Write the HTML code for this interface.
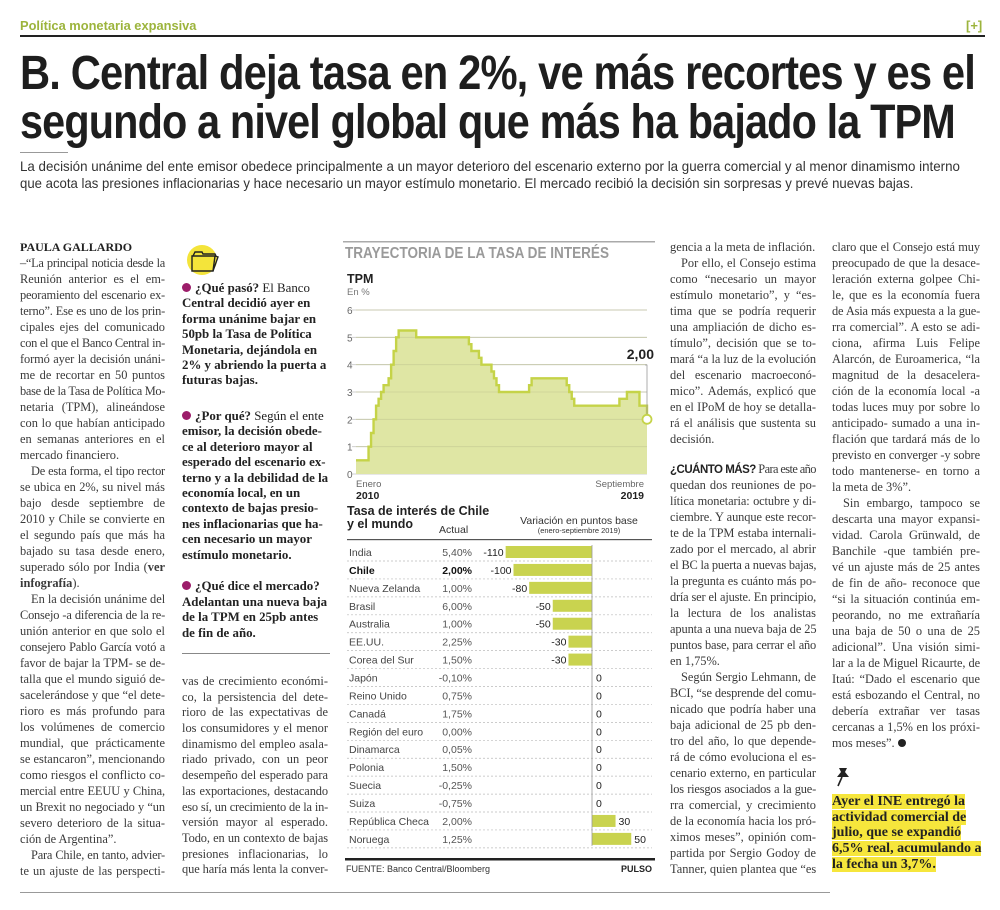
<!DOCTYPE html>
<html><head><meta charset="utf-8">
<style>
body{margin:0;background:#fff;}
#page{position:relative;width:1000px;height:910px;overflow:hidden;background:#fff;font-family:"Liberation Serif",serif;color:#3a3a3a;}
.abs{position:absolute;}
.fit{white-space:nowrap;transform-origin:0 50%;}
.col{position:absolute;font-size:12.4px;line-height:16px;}
.col div{white-space:nowrap;height:16px;}
.j{text-align:justify;text-align-last:justify;}
.ind{text-indent:11px;}
.bx{position:absolute;font-weight:bold;color:#222;font-size:12.9px;line-height:15.4px;}
.bx div{white-space:nowrap;height:15.4px;}
.dot{display:inline-block;width:9px;height:9px;border-radius:50%;background:#9c1d6a;margin-right:4px;vertical-align:0px;}
.hl{position:absolute;font-weight:bold;color:#222;font-size:14px;line-height:15.7px;}
.hl span{background:#f6e63c;}
.hl div{white-space:nowrap;height:15.7px;}
</style></head>
<body>
<div id="page">
  <div class="abs fit" data-w="176" style="left:20px;top:18px;font-family:'Liberation Sans',sans-serif;font-weight:bold;font-size:13px;color:#9cb43c;">Política monetaria expansiva</div>
  <div class="abs" style="left:966px;top:18px;font-family:'Liberation Sans',sans-serif;font-weight:bold;font-size:13px;color:#9cb43c;">[+]</div>
  <div class="abs" style="left:20px;top:35px;width:965px;height:2px;background:#222;"></div>

  <div class="abs fit" data-w="955" style="left:20px;top:47px;font-family:'Liberation Sans',sans-serif;font-weight:bold;font-size:48px;line-height:54px;color:#1e1e1e;letter-spacing:-1px;">B. Central deja tasa en 2%, ve más recortes y es el</div>
  <div class="abs fit" data-w="935" style="left:20px;top:96px;font-family:'Liberation Sans',sans-serif;font-weight:bold;font-size:48px;line-height:54px;color:#1e1e1e;letter-spacing:-1px;">segundo a nivel global que más ha bajado la TPM</div>
  <div class="abs" style="left:20px;top:152px;width:48px;height:1px;background:#999;"></div>
  <div class="abs fit" data-w="940" style="left:20px;top:158px;font-family:'Liberation Sans',sans-serif;font-size:14px;line-height:17px;color:#333;">La decisión unánime del ente emisor obedece principalmente a un mayor deterioro del escenario externo por la guerra comercial y al menor dinamismo interno</div>
  <div class="abs fit" data-w="893" style="left:20px;top:175px;font-family:'Liberation Sans',sans-serif;font-size:14px;line-height:17px;color:#333;">que acota las presiones inflacionarias y hace necesario un mayor estímulo monetario. El mercado recibió la decisión sin sorpresas y prevé nuevas bajas.</div>

  <!-- Column 1 -->
  <div class="col" style="left:20px;top:239px;width:145px;">
    <div style="font-weight:bold;color:#222;font-size:12px;">PAULA GALLARDO</div>
    <div class="j">–“La principal noticia desde la</div>
    <div class="j">Reunión anterior es el em-</div>
    <div class="j">peoramiento del escenario ex-</div>
    <div class="j">terno”. Ese es uno de los prin-</div>
    <div class="j">cipales ejes del comunicado</div>
    <div class="j">con el que el Banco Central in-</div>
    <div class="j">formó ayer la decisión unáni-</div>
    <div class="j">me de recortar en 50 puntos</div>
    <div class="j">base de la Tasa de Política Mo-</div>
    <div class="j">netaria (TPM), alineándose</div>
    <div class="j">con lo que habían anticipado</div>
    <div class="j">en semanas anteriores en el</div>
    <div>mercado financiero.</div>
    <div class="j ind">De esta forma, el tipo rector</div>
    <div class="j">se ubica en 2%, su nivel más</div>
    <div class="j">bajo desde septiembre de</div>
    <div class="j">2010 y Chile se convierte en</div>
    <div class="j">el segundo país que más ha</div>
    <div class="j">bajado su tasa desde enero,</div>
    <div class="j">superado sólo por India (<b>ver</b></div>
    <div><b>infografía</b>).</div>
    <div class="j ind">En la decisión unánime del</div>
    <div class="j">Consejo -a diferencia de la re-</div>
    <div class="j">unión anterior en que solo el</div>
    <div class="j">consejero Pablo García votó a</div>
    <div class="j">favor de bajar la TPM- se de-</div>
    <div class="j">talla que el mundo siguió de-</div>
    <div class="j">sacelerándose y que “el dete-</div>
    <div class="j">rioro es más profundo para</div>
    <div class="j">los volúmenes de comercio</div>
    <div class="j">mundial, que prácticamente</div>
    <div class="j">se estancaron”, mencionando</div>
    <div class="j">como riesgos el conflicto co-</div>
    <div class="j">mercial entre EEUU y China,</div>
    <div class="j">un Brexit no negociado y “un</div>
    <div class="j">severo deterioro de la situa-</div>
    <div>ción de Argentina”.</div>
    <div class="j ind">Para Chile, en tanto, advier-</div>
    <div class="j">te un ajuste de las perspecti-</div>
  </div>

  <!-- Column 2 box -->
  <svg class="abs" style="left:184px;top:244px;" width="40" height="34" viewBox="0 0 40 34">
    <circle cx="18" cy="16" r="15" fill="#f4e43a"/>
    <path d="M8 12 L8 27 L29 27 L31 12 Z" fill="none" stroke="#222" stroke-width="1.4"/>
    <path d="M9 12 L11 8 L18 8 L19 10 L31 10 L32 12" fill="none" stroke="#222" stroke-width="1.4"/>
    <path d="M29 27 L34 13 L31 12" fill="none" stroke="#222" stroke-width="1.4"/>
  </svg>
  <div class="bx" style="left:182px;top:281px;width:150px;">
    <div><span class="dot"></span>¿Qué pasó? <span style="font-weight:normal">El Banco</span></div>
    <div>Central decidió ayer en</div>
    <div>forma unánime bajar en</div>
    <div>50pb la Tasa de Política</div>
    <div>Monetaria, dejándola en</div>
    <div>2% y abriendo la puerta a</div>
    <div>futuras bajas.</div>
  </div>
  <div class="bx" style="left:182px;top:409px;width:150px;">
    <div><span class="dot"></span>¿Por qué? <span style="font-weight:normal">Según el ente</span></div>
    <div>emisor, la decisión obede-</div>
    <div>ce al deterioro mayor al</div>
    <div>esperado del escenario ex-</div>
    <div>terno y a la debilidad de la</div>
    <div>economía local, en un</div>
    <div>contexto de bajas presio-</div>
    <div>nes inflacionarias que ha-</div>
    <div>cen necesario un mayor</div>
    <div>estímulo monetario.</div>
  </div>
  <div class="bx" style="left:182px;top:579px;width:150px;line-height:15.7px;">
    <div style="height:15.7px"><span class="dot"></span>¿Qué dice el mercado?</div>
    <div style="height:15.7px">Adelantan una nueva baja</div>
    <div style="height:15.7px">de la TPM en 25pb antes</div>
    <div style="height:15.7px">de fin de año.</div>
  </div>
  <div class="abs" style="left:182px;top:653px;width:148px;height:1px;background:#888;"></div>
  <div class="col" style="left:182px;top:674px;width:146px;line-height:15.7px;">
    <div class="j" style="height:15.7px">vas de crecimiento económi-</div>
    <div class="j" style="height:15.7px">co, la persistencia del dete-</div>
    <div class="j" style="height:15.7px">rioro de las expectativas de</div>
    <div class="j" style="height:15.7px">los consumidores y el menor</div>
    <div class="j" style="height:15.7px">dinamismo del empleo asala-</div>
    <div class="j" style="height:15.7px">riado privado, con un peor</div>
    <div class="j" style="height:15.7px">desempeño del esperado para</div>
    <div class="j" style="height:15.7px">las exportaciones, destacando</div>
    <div class="j" style="height:15.7px">eso sí, un crecimiento de la in-</div>
    <div class="j" style="height:15.7px">versión mayor al esperado.</div>
    <div class="j" style="height:15.7px">Todo, en un contexto de bajas</div>
    <div class="j" style="height:15.7px">presiones inflacionarias, lo</div>
    <div class="j" style="height:15.7px">que haría más lenta la conver-</div>
  </div>

  <!-- Chart -->
  <svg class="abs" id="chart" style="left:0;top:0;" width="1000" height="910"></svg>

  <!-- Column 3 -->
  <div class="col" style="left:670px;top:239px;width:146px;">
    <div>gencia a la meta de inflación.</div>
    <div class="j ind">Por ello, el Consejo estima</div>
    <div class="j">como “necesario un mayor</div>
    <div class="j">estímulo monetario”, y “es-</div>
    <div class="j">tima que se podría requerir</div>
    <div class="j">una ampliación de dicho es-</div>
    <div class="j">tímulo”, decisión que se to-</div>
    <div class="j">mará “a la luz de la evolución</div>
    <div class="j">del escenario macroeconó-</div>
    <div class="j">mico”. Además, explicó que</div>
    <div class="j">en el IPoM de hoy se detalla-</div>
    <div class="j">rá el análisis que sustenta su</div>
    <div>decisión.</div>
    <div style="height:14px"></div>
    <div><b style="font-family:'Liberation Sans',sans-serif;color:#222;font-size:11.5px;letter-spacing:-0.5px;">¿CUÁNTO MÁS?</b> Para este año</div>
    <div class="j">quedan dos reuniones de po-</div>
    <div class="j">lítica monetaria: octubre y di-</div>
    <div class="j">ciembre. Y aunque este recor-</div>
    <div class="j">te de la TPM estaba internali-</div>
    <div class="j">zado por el mercado, al abrir</div>
    <div class="j">el BC la puerta a nuevas bajas,</div>
    <div class="j">la pregunta es cuánto más po-</div>
    <div class="j">dría ser el ajuste. En principio,</div>
    <div class="j">la lectura de los analistas</div>
    <div class="j">apunta a una nueva baja de 25</div>
    <div class="j">puntos base, para cerrar el año</div>
    <div>en 1,75%.</div>
    <div class="j ind">Según Sergio Lehmann, de</div>
    <div class="j">BCI, “se desprende del comu-</div>
    <div class="j">nicado que podría haber una</div>
    <div class="j">baja adicional de 25 pb den-</div>
    <div class="j">tro del año, lo que depende-</div>
    <div class="j">rá de cómo evoluciona el es-</div>
    <div class="j">cenario externo, en particular</div>
    <div class="j">los riesgos asociados a la gue-</div>
    <div class="j">rra comercial, y crecimiento</div>
    <div class="j">de la economía hacia los pró-</div>
    <div class="j">ximos meses”, opinión com-</div>
    <div class="j">partida por Sergio Godoy de</div>
    <div class="j">Tanner, quien plantea que “es</div>
  </div>

  <!-- Column 4 -->
  <div class="col" style="left:832px;top:239px;width:148px;">
    <div class="j">claro que el Consejo está muy</div>
    <div class="j">preocupado de que la desace-</div>
    <div class="j">leración externa golpee Chi-</div>
    <div class="j">le, que es la economía fuera</div>
    <div class="j">de Asia más expuesta a la gue-</div>
    <div class="j">rra comercial”. A esto se adi-</div>
    <div class="j">ciona, afirma Luis Felipe</div>
    <div class="j">Alarcón, de Euroamerica, “la</div>
    <div class="j">magnitud de la desacelera-</div>
    <div class="j">ción de la economía local -a</div>
    <div class="j">todas luces muy por sobre lo</div>
    <div class="j">anticipado- sumado a una in-</div>
    <div class="j">flación que tardará más de lo</div>
    <div class="j">previsto en converger -y sobre</div>
    <div class="j">todo mantenerse- en torno a</div>
    <div>la meta de 3%”.</div>
    <div class="j ind">Sin embargo, tampoco se</div>
    <div class="j">descarta una mayor expansi-</div>
    <div class="j">vidad. Carola Grünwald, de</div>
    <div class="j">Banchile -que también pre-</div>
    <div class="j">vé un ajuste más de 25 antes</div>
    <div class="j">de fin de año- reconoce que</div>
    <div class="j">“si la situación continúa em-</div>
    <div class="j">peorando, no me extrañaría</div>
    <div class="j">una baja de 50 o una de 25</div>
    <div class="j">adicional”. Una visión simi-</div>
    <div class="j">lar a la de Miguel Ricaurte, de</div>
    <div class="j">Itaú: “Dado el escenario que</div>
    <div class="j">está esbozando el Central, no</div>
    <div class="j">debería extrañar ver tasas</div>
    <div class="j">cercanas a 1,5% en los próxi-</div>
    <div>mos meses”. <span style="display:inline-block;width:8px;height:8px;border-radius:50%;background:#222;"></span></div>
  </div>
  <svg class="abs" style="left:833px;top:766px;" width="20" height="22" viewBox="0 0 20 22">
    <path d="M6 2 L14 2 L12 6 L16 11 L4 11 L8 6 Z" fill="#222"/>
    <path d="M9 11 L5 20" stroke="#222" stroke-width="1.6"/>
  </svg>
  <div class="hl" style="left:832px;top:794px;width:150px;">
    <div><span>Ayer el INE entregó la</span></div>
    <div><span>actividad comercial de</span></div>
    <div><span>julio, que se expandió</span></div>
    <div><span>6,5% real, acumulando a</span></div>
    <div><span>la fecha un 3,7%.</span></div>
  </div>
  <div class="abs" style="left:20px;top:892px;width:810px;height:1px;background:#999;"></div>
</div>

<script>
// ---- Chart data ----
const tpmYTicks = [0, 1, 2, 3, 4, 5, 6];
const tpmValues = [
  0.5,0.5,0.5,0.5,0.5,1.0,1.5,2.0,2.5,2.75,3.0,3.25,
  3.25,3.5,4.0,4.5,5.0,5.25,5.25,5.25,5.25,5.25,5.25,5.25,
  5.0,5.0,5.0,5.0,5.0,5.0,5.0,5.0,5.0,5.0,5.0,5.0,
  5.0,5.0,5.0,5.0,5.0,5.0,5.0,5.0,5.0,4.75,4.5,4.5,
  4.5,4.25,4.0,4.0,4.0,4.0,3.75,3.5,3.25,3.0,3.0,3.0,
  3.0,3.0,3.0,3.0,3.0,3.0,3.0,3.0,3.0,3.25,3.5,3.5,
  3.5,3.5,3.5,3.5,3.5,3.5,3.5,3.5,3.5,3.5,3.5,3.5,
  3.25,3.0,2.75,2.5,2.5,2.5,2.5,2.5,2.5,2.5,2.5,2.5,
  2.5,2.5,2.5,2.5,2.5,2.5,2.5,2.5,2.5,2.75,2.75,2.75,
  3.0,3.0,3.0,3.0,3.0,2.5,2.5,2.5,2.0
];
const tpmLastLabel = "2,00";
const countries = ["India","Chile","Nueva Zelanda","Brasil","Australia","EE.UU.","Corea del Sur","Japón","Reino Unido","Canadá","Región del euro","Dinamarca","Polonia","Suecia","Suiza","República Checa","Noruega"];
const actualRates = ["5,40%","2,00%","1,00%","6,00%","1,00%","2,25%","1,50%","-0,10%","0,75%","1,75%","0,00%","0,05%","1,50%","-0,25%","-0,75%","2,00%","1,25%"];
const variations = [-110,-100,-80,-50,-50,-30,-30,0,0,0,0,0,0,0,0,30,50];

const svg = document.getElementById('chart');
const NS = 'http://www.w3.org/2000/svg';
function mk(tag, attrs, parent){ const e=document.createElementNS(NS,tag); for(const k in attrs) e.setAttribute(k,attrs[k]); (parent||svg).appendChild(e); return e; }
function txt(x,y,s,attrs){ const e=mk('text',Object.assign({x:x,y:y,'font-family':'Liberation Sans, sans-serif'},attrs||{})); e.textContent=s; return e; }

let r = mk('rect',{x:343,y:241,width:312,height:1.5,fill:'#aaa'});


let t = txt(345,258,'TRAYECTORIA DE LA TASA DE INTERÉS',{'font-size':15.5,'font-weight':'bold',fill:'#9a9a9a',textLength:264,lengthAdjust:'spacingAndGlyphs'});


t = txt(347,283,'TPM',{'font-size':12.5,'font-weight':'bold',fill:'#222'});


t = txt(347,295,'En %',{'font-size':9.5,fill:'#777'});



const X0=356, X1=647, Y0=474, Y6=310;
const xScale = i => X0 + (X1-X0)*i/(tpmValues.length-1);
const yScale = v => Y0 - (Y0-Y6)*v/6;
tpmYTicks.forEach(v=>{
  const g = mk('line',{x1:352,x2:X1,y1:yScale(v),y2:yScale(v),stroke:'#cfcfcf','stroke-width':1});
  
  
  const l = txt(347,yScale(v)+4,String(v),{'font-size':10,fill:'#666'});
  
  
});
let d = 'M'+xScale(0)+','+yScale(0);
let dl = '';
for(let i=0;i<tpmValues.length;i++){
  const xa = xScale(i), xb = xScale(Math.min(i+1,tpmValues.length-1));
  d += ' L'+xa+','+yScale(tpmValues[i])+' L'+xb+','+yScale(tpmValues[i]);
  dl += (i===0?'M':' L')+xa+','+yScale(tpmValues[i])+' L'+xb+','+yScale(tpmValues[i]);
}
d += ' L'+xScale(tpmValues.length-1)+','+yScale(0)+' Z';
const area = mk('path',{d:d,fill:'#dfe6a4'});


tpmYTicks.forEach(v=>{ if(v>0){ const g=mk('line',{x1:X0,x2:X1,y1:yScale(v),y2:yScale(v),stroke:'#bfc48e','stroke-width':0.8,opacity:0.6});   }});
const line = mk('path',{d:dl,fill:'none',stroke:'#c5d348','stroke-width':2.4});


const lastX = xScale(tpmValues.length-1), lastY = yScale(tpmValues[tpmValues.length-1]);
const lead = mk('polyline',{points:(lastX)+','+(lastY-5)+' '+lastX+',365 '+(lastX-2)+',365',fill:'none',stroke:'#999','stroke-width':0.8});


const c = mk('circle',{cx:lastX,cy:lastY,r:4.5,fill:'#fff',stroke:'#c5d348','stroke-width':1.8});


t = txt(lastX+7,359,tpmLastLabel,{'font-size':14,'font-weight':'bold',fill:'#222','text-anchor':'end'});


t = txt(356,487,'Enero',{'font-size':9.5,fill:'#666'});  
t = txt(356,499,'2010',{'font-size':10.5,'font-weight':'bold',fill:'#222'});  
t = txt(644,487,'Septiembre',{'font-size':9.5,fill:'#666','text-anchor':'end'});  
t = txt(644,499,'2019',{'font-size':10.5,'font-weight':'bold',fill:'#222','text-anchor':'end'});  

t = txt(347,515,'Tasa de interés de Chile',{'font-size':12.5,'font-weight':'bold',fill:'#222'});  
t = txt(347,528,'y el mundo',{'font-size':12.5,'font-weight':'bold',fill:'#222'});  
t = txt(439,533,'Actual',{'font-size':10.5,fill:'#333'});  
t = txt(579,524,'Variación en puntos base',{'font-size':10.5,fill:'#333','text-anchor':'middle'});  
t = txt(579,533,'(enero-septiembre 2019)',{'font-size':7.5,fill:'#333','text-anchor':'middle'});  
r = mk('rect',{x:347,y:539,width:305,height:1.2,fill:'#555'});  

const ZERO = 592, BP = 0.785, ROW0 = 552, ROWH = 17.93;
const bx = v => ZERO + v*BP;
const rowY = i => ROW0 + i*ROWH;
countries.forEach((name,i)=>{
  const y = rowY(i);
  const sep = mk('line',{x1:347,x2:652,y1:y+9,y2:y+9,stroke:'#bbb','stroke-width':0.7,'stroke-dasharray':'2,2'});
  
  
  const bold = name==='Chile';
  const n = txt(349,y+4,name,{'font-size':10.5,fill:bold?'#111':'#444','font-weight':bold?'bold':'normal'});
  
  
  const a = txt(472,y+4,actualRates[i],{'font-size':10.5,fill:bold?'#111':'#555','font-weight':bold?'bold':'normal','text-anchor':'end'});
  
  
  const v = variations[i];
  if(v!==0){
    const b = mk('rect',{x:Math.min(bx(v),ZERO),y:y-6,width:Math.abs(bx(v)-ZERO),height:12,fill:'#c9d34f'});
    
    
  }
  const lx = v<0 ? bx(v)-2 : (v>0 ? bx(v)+3 : ZERO+4);
  const vl = txt(lx,y+4,String(v),{'font-size':10.5,fill:'#222','text-anchor':v<0?'end':'start'});
  
  
});
const zl = mk('line',{x1:ZERO,x2:ZERO,y1:rowY(0)-7,y2:rowY(countries.length-1)+7,stroke:'#999','stroke-width':0.8});


r = mk('rect',{x:345,y:858,width:310,height:2.5,fill:'#222'});  
t = txt(346,872,'FUENTE: Banco Central/Bloomberg',{'font-size':9,fill:'#333'});  
t = txt(652,872,'PULSO',{'font-size':9,'font-weight':'bold',fill:'#222','text-anchor':'end'});  

document.querySelectorAll('.fit').forEach(el=>{
  const w = +el.getAttribute('data-w');
  const nat = el.scrollWidth;
  if(w && nat) el.style.transform = 'scaleX('+(w/nat)+')';
});
document.querySelectorAll('.col div, .bx div').forEach(el=>{
  const w = el.clientWidth;
  let ls = 0;
  const prev = el.style.textAlignLast;
  el.style.textAlignLast = 'left';
  while(el.scrollWidth > w+0.5 && ls > -1.2){ ls -= 0.1; el.style.letterSpacing = ls+'px'; }
  el.style.textAlignLast = prev;
});
</script>
</body></html>
